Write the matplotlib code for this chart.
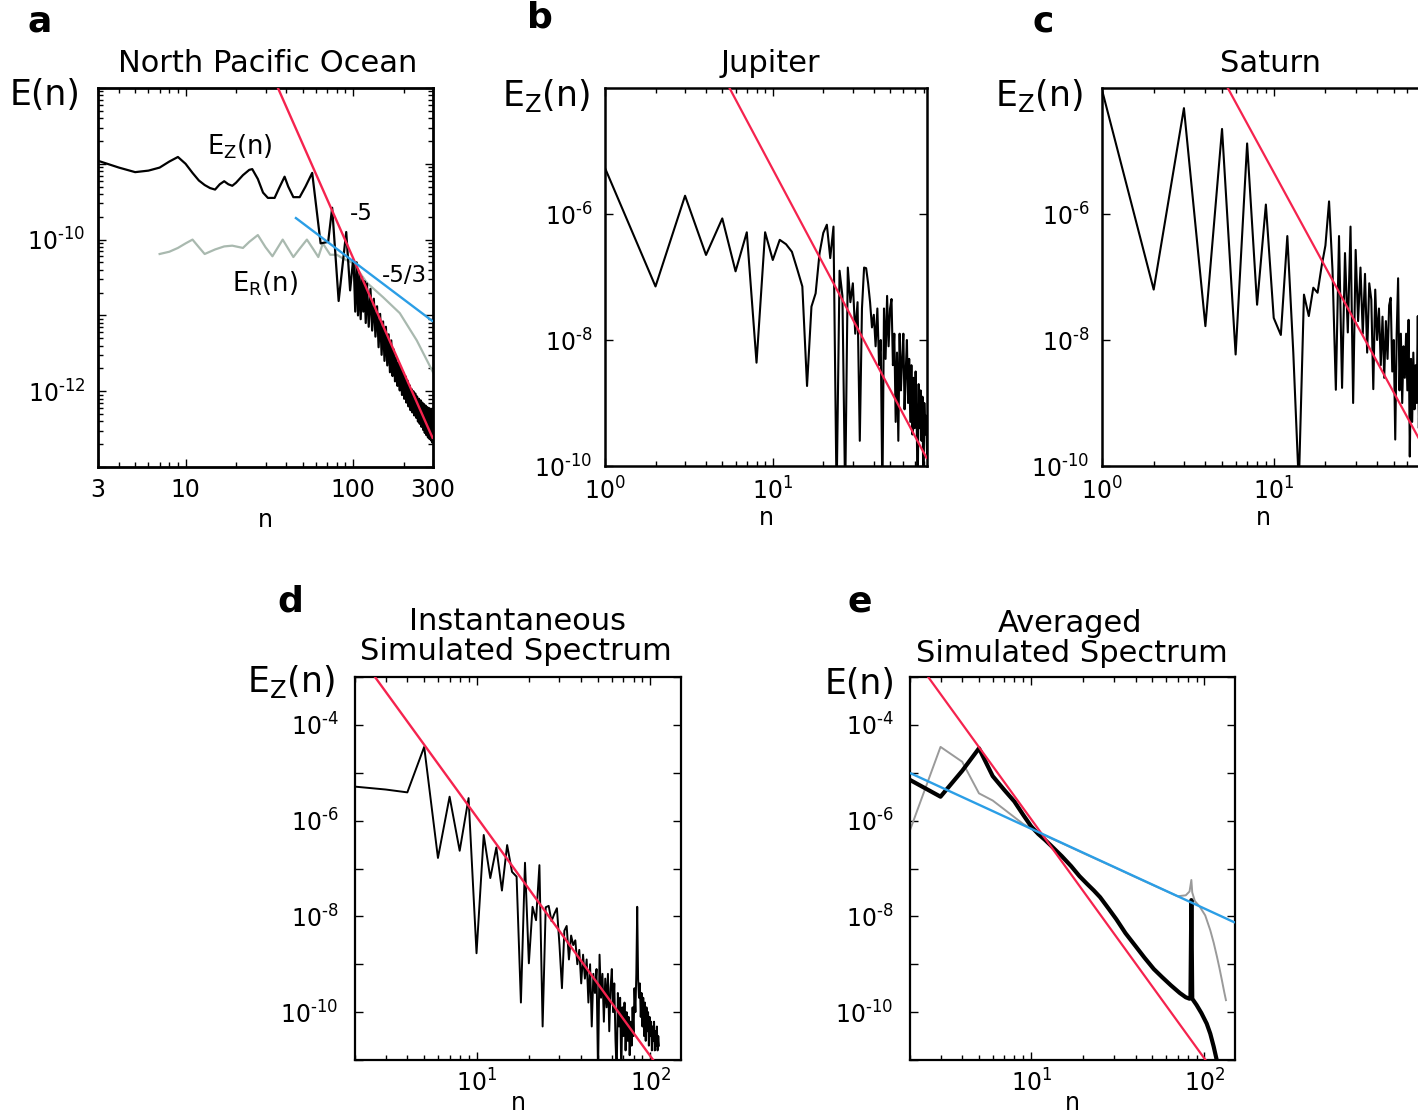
import numpy as np
import matplotlib
matplotlib.use("Agg")
import matplotlib.pyplot as plt
from matplotlib.ticker import FixedLocator, FixedFormatter, NullFormatter

plt.rcParams['font.family'] = ['DejaVu Sans']
plt.rcParams['mathtext.fontset'] = 'dejavusans'
plt.rcParams['mathtext.default'] = 'regular'

# ---------------------------------------------------------------- data
# All spectra are given as (wavenumber n, log10 E)

# a: North Pacific Ocean, zonal part E_Z(n)
ocean_zonal = [
    (3, -8.96), (4, -9.05), (5, -9.11), (6, -9.09), (7, -9.05), (8, -8.97), (9, -8.91),
    (10, -9.00), (11, -9.12), (12, -9.22), (13, -9.28), (14, -9.32), (15, -9.34),
    (16, -9.27), (17, -9.23), (18, -9.27), (19, -9.29), (20, -9.25), (22, -9.15),
    (24, -9.08), (25, -9.07), (27, -9.20), (29, -9.38), (31, -9.45), (34, -9.45),
    (36, -9.33), (39, -9.17), (41, -9.30), (44, -9.44), (48, -9.44), (52, -9.30),
    (57, -9.12), (64, -10.05), (71, -10.03), (75, -9.58), (82, -10.81), (91, -9.90),
    (96, -10.67), (100, -10.27),
    (101, -10.35), (103, -10.95), (105, -10.30), (107, -11.00), (109, -10.45),
    (111, -11.05), (113, -10.50), (115, -10.95), (117, -10.55), (119, -11.10),
    (121, -10.58), (124, -11.15), (127, -10.65), (130, -11.20), (133, -10.78),
    (136, -11.28), (139, -10.88), (142, -11.42), (145, -10.98), (148, -11.52),
    (151, -11.08), (154, -11.60), (157, -11.15), (160, -11.66), (163, -11.25),
    (166, -11.75), (169, -11.33), (172, -11.80), (175, -11.45), (178, -11.87),
    (181, -11.55), (184, -11.93), (187, -11.62), (190, -11.99), (193, -11.68),
    (196, -12.05), (199, -11.75), (202, -12.10), (205, -11.80), (208, -12.15),
    (211, -11.86), (214, -12.20), (217, -11.92), (220, -12.25), (223, -11.97),
    (226, -12.28), (229, -12.00), (232, -12.32), (235, -12.03), (238, -12.35),
    (241, -12.07), (244, -12.40), (247, -12.10), (250, -12.43), (253, -12.12),
    (256, -12.47), (259, -12.15), (262, -12.51), (265, -12.17), (268, -12.55),
    (271, -12.19), (274, -12.58), (277, -12.21), (280, -12.61), (283, -12.22),
    (286, -12.63), (289, -12.24), (292, -12.65), (295, -12.25), (298, -12.68),
    (300, -12.40),
]

# a: North Pacific Ocean, residual part E_R(n)
ocean_residual = [
    (7, -10.19), (8, -10.16), (9, -10.11), (10, -10.05), (11, -10.00), (12, -10.10),
    (13, -10.19), (15, -10.13), (17, -10.09), (19, -10.08), (22, -10.11), (24, -10.03),
    (27, -9.94), (30, -10.10), (33, -10.22), (38, -10.00), (41, -10.12), (44, -10.23),
    (48, -10.12), (53, -10.00), (58, -10.13), (62, -10.23), (66, -10.05), (73, -10.20),
    (80, -10.20), (87, -10.25), (100, -10.31), (121, -10.57), (151, -10.76),
    (190, -10.97), (240, -11.33), (300, -11.75),
]

# b: Jupiter, E_Z(n) for n = 1 ... 83
jupiter_first_n = 1
jupiter_logE = [
    -5.27, -7.15, -5.71, -6.65, -6.07, -6.91, -6.29, -8.36, -6.29, -6.73,
    -6.41, -6.48, -6.60, -6.88, -7.15, -8.73, -7.47, -7.26, -6.62, -6.30,
    -6.17, -6.70, -6.20, -10.5, -6.90, -7.30, -10.5, -6.85, -7.40, -7.10,
    -7.90, -7.40, -9.60, -7.50, -6.85, -6.86, -7.10, -7.40, -7.80, -7.60,
    -8.10, -7.50, -8.40, -8.00, -10.5, -7.50, -8.30, -7.30, -8.10, -7.50,
    -7.35, -8.40, -7.90, -9.30, -8.20, -9.60, -7.90, -8.80, -8.30, -7.90,
    -9.10, -8.50, -8.00, -9.00, -8.30, -9.30, -8.40, -9.50, -8.60, -9.40,
    -8.50, -9.20, -10.5, -8.70, -9.40, -8.80, -9.60, -8.90, -10.5, -9.00,
    -9.50, -9.20, -9.80,
]

# c: Saturn, E_Z(n) for n = 1 ... 75
saturn_first_n = 1
saturn_logE = [
    -4.03, -7.20, -4.32, -7.78, -4.65, -8.23, -4.88, -7.44, -5.85, -7.65,
    -7.92, -6.35, -8.20, -10.3, -7.28, -7.62, -7.17, -7.25, -6.83, -6.50,
    -5.80, -6.90, -8.79, -6.35, -8.76, -6.62, -7.88, -6.20, -9.00, -6.57,
    -7.70, -6.85, -7.90, -6.95, -8.20, -7.10, -7.36, -8.78, -7.20, -8.00,
    -7.50, -8.40, -7.63, -8.60, -7.70, -8.30, -7.45, -7.33, -8.50, -8.00,
    -9.58, -7.90, -7.02, -8.80, -7.90, -9.00, -8.10, -8.60, -7.90, -8.80,
    -7.68, -9.85, -8.30, -9.30, -8.20, -9.10, -8.40, -9.00, -7.62, -9.40,
    -8.30, -9.20, -8.50, -9.50, -8.60,
]

# d: instantaneous simulated spectrum, E_Z(n) for n = 2 ... 112
inst_first_n = 2
inst_logE = [
    -5.29, -5.35, -5.41, -4.46, -6.78, -5.50, -6.63, -5.53, -8.77, -6.30,
    -7.20, -6.56, -7.46, -6.51, -7.07, -7.17, -9.80, -6.88, -8.98, -7.80,
    -8.08, -6.93, -10.3, -7.81, -7.78, -8.10, -7.95, -7.83, -8.60, -9.50,
    -8.30, -8.20, -8.90, -8.40, -8.60, -8.50, -9.00, -8.70, -9.40, -8.80,
    -9.30, -8.90, -9.80, -9.00, -10.3, -9.20, -9.60, -9.10, -11.3, -8.80,
    -9.70, -9.20, -10.2, -9.30, -9.90, -9.20, -10.4, -9.50, -9.10, -10.0,
    -9.40, -10.6, -11.3, -9.60, -10.3, -9.70, -11.3, -9.90, -10.5, -9.80,
    -10.8, -10.0, -10.6, -10.1, -10.9, -10.2, -10.7, -9.90, -10.5, -9.50,
    -10.0, -9.20, -7.80, -9.30, -9.70, -9.40, -10.1, -9.60, -10.3, -9.70,
    -10.5, -9.80, -10.6, -9.90, -10.4, -10.0, -10.7, -10.1, -10.5, -10.2,
    -10.8, -10.3, -10.6, -10.2, -10.8, -10.4, -10.7, -10.3, -10.8, -10.5,
    -10.7,
]

# e: averaged simulated spectrum, zonal (black) and total (grey)
avg_zonal = [
    (2, -5.15), (3, -5.50), (4, -4.96), (5, -4.49), (6, -5.07), (7, -5.36),
    (8, -5.60), (9, -5.88), (10, -6.12), (11, -6.28), (12, -6.40), (13, -6.52),
    (15, -6.74), (17, -6.95), (19, -7.16), (21, -7.32), (23, -7.46), (25, -7.60),
    (28, -7.84), (31, -8.06), (35, -8.35), (40, -8.62), (45, -8.86), (51, -9.10),
    (57, -9.27), (64, -9.44), (72, -9.60), (78, -9.69), (82, -9.72), (83, -9.70),
    (84, -7.66), (85, -9.72), (90, -9.85), (96, -10.02), (103, -10.24),
    (108, -10.45), (113, -10.72), (118, -11.02), (121, -11.25),
]
avg_total = [
    (2, -6.20), (3, -4.46), (4, -4.77), (5, -5.43), (6, -5.58), (9, -6.07),
    (11, -6.25), (15, -6.47), (20, -6.68), (30, -6.97), (40, -7.18), (50, -7.34),
    (60, -7.47), (70, -7.58), (78, -7.56), (82, -7.48), (84, -7.24), (85, -7.50),
    (88, -7.68), (94, -7.80), (101, -7.98), (108, -8.29), (113, -8.55),
    (118, -8.84), (122, -9.08), (126, -9.33), (130, -9.58), (133, -9.75),
]

# reference power laws: (anchor n, log10 E at anchor, n range)
steep_slope = -5.0
kolmogorov_slope = -5.0 / 3.0
ocean_steep = (35.6, -8.0, 30, 300)
ocean_kolmo = (300, -11.08, 45, 300)
jupiter_steep = (5.52, -4.0, 5, 83)
saturn_steep = (5.4, -4.0, 5, 80)
inst_steep = (10, -5.92, 2, 112)
avg_steep = (10, -5.97, 2, 112)
avg_kolmo = (10, -6.17, 2, 150)

# ---------------------------------------------------------------- style
RED = '#f5234e'
BLUE = '#2b9ee6'
GREY_A = '#a9b9af'
GREY_E = '#9a9a9a'
TICK_SIZE = 17

W, H = 1418, 1117
fig = plt.figure(figsize=(W / 100, H / 100), dpi=100)


def box(x0, y0, x1, y1):
    return [x0 / W, 1 - y1 / H, (x1 - x0) / W, (y1 - y0) / H]


def at(x, y):
    return x / W, 1 - y / H


def pw(e):
    if e < 0:
        return '$10^{\u2010%d}$' % abs(e)
    return '$10^{%d}$' % e


def spectrum(pairs):
    n = np.array([p[0] for p in pairs], dtype=float)
    v = np.array([p[1] for p in pairs], dtype=float)
    return n, 10.0 ** v


def series(first_n, values):
    n = np.arange(first_n, first_n + len(values), dtype=float)
    return n, 10.0 ** np.asarray(values)


def power_law(ax, spec, slope, color, lw=1.5):
    n0, e0, na, nb = spec
    n = np.array([na, nb], dtype=float)
    ax.plot(n, 10.0 ** (e0 + slope * (np.log10(n) - np.log10(n0))),
            color=color, lw=lw, zorder=5, solid_capstyle='butt')


def style(ax, xlim, ylim, xmaj, xlabels, xminor, ymaj, ylab_exps, yminor,
          spine_w=1.8, right=True, ypad=7, xpad=8):
    ax.set_xscale('log')
    ax.set_yscale('log')
    ax.set_xlim(*xlim)
    ax.set_ylim(*ylim)
    ax.xaxis.set_major_locator(FixedLocator(xmaj))
    ax.xaxis.set_major_formatter(FixedFormatter(xlabels))
    ax.xaxis.set_minor_locator(FixedLocator(xminor))
    ax.xaxis.set_minor_formatter(NullFormatter())
    ax.yaxis.set_major_locator(FixedLocator([10.0 ** e for e in ymaj]))
    ax.yaxis.set_major_formatter(
        FixedFormatter([pw(e) if e in ylab_exps else '' for e in ymaj]))
    ax.yaxis.set_minor_locator(FixedLocator(yminor))
    ax.yaxis.set_minor_formatter(NullFormatter())
    for s in ax.spines.values():
        s.set_linewidth(spine_w)
    ax.tick_params(which='both', direction='in', top=True, right=right,
                   width=1.0, labelsize=TICK_SIZE, colors='black')
    ax.tick_params(which='major', length=6)
    ax.tick_params(which='minor', length=3.5)
    ax.tick_params(axis='x', which='major', pad=xpad)
    ax.tick_params(axis='y', which='major', pad=ypad)


def minor_decades(lo, hi, subs=range(2, 10)):
    out = []
    for e in range(lo, hi + 1):
        for s in subs:
            out.append(s * 10.0 ** e)
    return out


# ---------------------------------------------------------------- panel a
ax = fig.add_axes(box(98, 88, 433, 467))
n, e = spectrum(ocean_residual)
ax.plot(n, e, color=GREY_A, lw=1.6, zorder=2)
n, e = spectrum(ocean_zonal)
ax.plot(n, e, color='black', lw=1.6, zorder=3)
power_law(ax, ocean_steep, steep_slope, RED, 1.7)
power_law(ax, ocean_kolmo, kolmogorov_slope, BLUE, 1.7)
style(ax, (3, 300), (1e-13, 1e-8),
      [3, 10, 100, 300], ['3', '10', '100', '300'],
      [4, 5, 6, 7, 8, 9, 20, 30, 40, 50, 60, 70, 80, 90, 200],
      [-13, -12, -11, -10, -9, -8], [-10, -12],
      minor_decades(-13, -9), spine_w=2.0, ypad=9)
ax.set_xlabel('n', fontsize=TICK_SIZE, labelpad=4)
ax.text(*at(240, 147), '$E_Z(n)$', transform=fig.transFigure, fontsize=18.5,
        ha='center', va='center')
ax.text(*at(265, 284), '$E_R(n)$', transform=fig.transFigure, fontsize=18.5,
        ha='center', va='center')
ax.text(*at(361, 214), '-5', transform=fig.transFigure, fontsize=16.5,
        ha='center', va='center')
ax.text(*at(404, 275), '-5/3', transform=fig.transFigure, fontsize=16.5,
        ha='center', va='center')

# ---------------------------------------------------------------- panel b
ax = fig.add_axes(box(605, 88, 927, 466))
n, e = series(jupiter_first_n, jupiter_logE)
ax.plot(n, e, color='black', lw=1.5, zorder=3)
power_law(ax, jupiter_steep, steep_slope, RED, 1.6)
style(ax, (1, 83), (1e-10, 1e-4),
      [1, 10], [pw(0), pw(1)],
      [2, 3, 4, 5, 6, 7, 8, 9, 20, 30, 40, 50, 60, 70, 80],
      [-10, -8, -6], [-10, -8, -6], [], ypad=9)
ax.set_xlabel('n', fontsize=TICK_SIZE, labelpad=1)

# ---------------------------------------------------------------- panel c
ax = fig.add_axes(box(1102, 88, 1424, 466))
n, e = series(saturn_first_n, saturn_logE)
ax.plot(n, e, color='black', lw=1.5, zorder=3)
power_law(ax, saturn_steep, steep_slope, RED, 1.6)
style(ax, (1, 75), (1e-10, 1e-4),
      [1, 10], [pw(0), pw(1)],
      [2, 3, 4, 5, 6, 7, 8, 9, 20, 30, 40, 50, 60, 70],
      [-10, -8, -6], [-10, -8, -6], [], right=False, ypad=9)
ax.set_xlabel('n', fontsize=TICK_SIZE, labelpad=1)

# ---------------------------------------------------------------- panel d
ax = fig.add_axes(box(355, 677, 681, 1060))
n, e = series(inst_first_n, inst_logE)
ax.plot(n, e, color='black', lw=1.4, zorder=3)
power_law(ax, inst_steep, steep_slope, RED, 1.7)
style(ax, (2, 150), (1e-11, 1e-3),
      [10, 100], [pw(1), pw(2)],
      [2, 3, 4, 5, 6, 7, 8, 9, 20, 30, 40, 50, 60, 70, 80, 90],
      list(range(-11, -2)), [-10, -8, -6, -4], [], spine_w=1.6, ypad=12,
      xpad=7)
ax.set_xlabel('n', fontsize=TICK_SIZE, labelpad=-4)

# ---------------------------------------------------------------- panel e
ax = fig.add_axes(box(910, 677, 1235, 1060))
n, e = spectrum(avg_total)
ax.plot(n, e, color=GREY_E, lw=1.4, zorder=2)
n, e = spectrum(avg_zonal)
ax.plot(n, e, color='black', lw=3.0, zorder=3, solid_joinstyle='round')
power_law(ax, avg_steep, steep_slope, RED, 1.6)
power_law(ax, avg_kolmo, kolmogorov_slope, BLUE, 1.7)
style(ax, (2, 150), (1e-11, 1e-3),
      [10, 100], [pw(1), pw(2)],
      [2, 3, 4, 5, 6, 7, 8, 9, 20, 30, 40, 50, 60, 70, 80, 90],
      list(range(-11, -2)), [-10, -8, -6, -4], [], spine_w=1.6, ypad=12,
      xpad=7)
ax.set_xlabel('n', fontsize=TICK_SIZE, labelpad=-4)

# ---------------------------------------------------------------- titles, labels
title_kw = dict(fontsize=22, ha='center', va='center')
fig.text(*at(268, 63), 'North Pacific Ocean', **title_kw)
fig.text(*at(770, 63), 'Jupiter', **title_kw)
fig.text(*at(1270, 63), 'Saturn', **title_kw)
fig.text(*at(517, 622), 'Instantaneous', **title_kw)
fig.text(*at(516, 652), 'Simulated Spectrum', **title_kw)
fig.text(*at(1070, 623), 'Averaged', **title_kw)
fig.text(*at(1072, 653), 'Simulated Spectrum', **title_kw)

ylab_kw = dict(fontsize=25, ha='left', va='center')
fig.text(*at(10, 95), 'E(n)', **ylab_kw)
fig.text(*at(502, 95), '$E_Z(n)$', **ylab_kw)
fig.text(*at(995, 95), '$E_Z(n)$', **ylab_kw)
fig.text(*at(247, 682), '$E_Z(n)$', **ylab_kw)
fig.text(*at(825, 684), 'E(n)', **ylab_kw)

letter_kw = dict(fontsize=26, fontweight='bold', ha='center', va='center')
fig.text(*at(40, 21), 'a', **letter_kw)
fig.text(*at(540, 18), 'b', **letter_kw)
fig.text(*at(1043, 21), 'c', **letter_kw)
fig.text(*at(290, 601), 'd', **letter_kw)
fig.text(*at(860, 601), 'e', **letter_kw)

fig.savefig('out.png', dpi=100)
